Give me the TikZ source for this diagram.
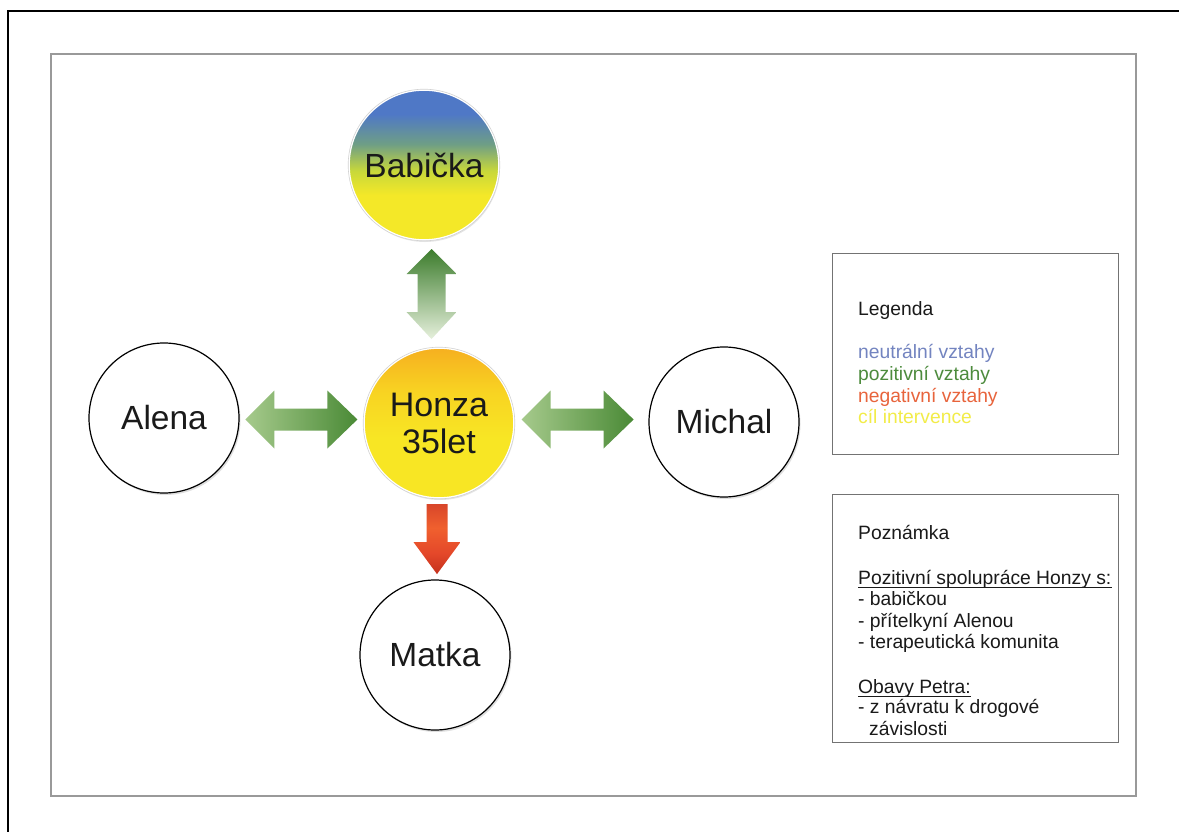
\documentclass[tikz,border=0pt]{standalone}
\usepackage{fontspec}
\setmainfont{Liberation Sans}
\usetikzlibrary{calc,shadows}
\definecolor{bY}{HTML}{F4E828}
\definecolor{bYG}{HTML}{C8D83A}
\definecolor{bG}{HTML}{6E9E86}
\definecolor{bB}{HTML}{4F78C6}
\definecolor{hY}{HTML}{F8E624}
\definecolor{hM}{HTML}{F8D422}
\definecolor{hO}{HTML}{F6B020}
\definecolor{rD}{HTML}{C4301C}
\definecolor{rM}{HTML}{E4482A}
\definecolor{rL}{HTML}{F0602E}
\definecolor{rT}{HTML}{D8462A}
\definecolor{gD}{HTML}{3C7C2C}
\definecolor{gM}{HTML}{8DB976}
\definecolor{gL}{HTML}{E6F0DC}
\definecolor{hL}{HTML}{A6CA8C}
\definecolor{hC}{HTML}{C6DCB4}
\definecolor{hR}{HTML}{4A8A36}
\definecolor{txt}{HTML}{1A1A1A}
\definecolor{cNeu}{HTML}{7384C0}
\definecolor{cPos}{HTML}{4D8B3D}
\definecolor{cNeg}{HTML}{E8643C}
\definecolor{cCil}{HTML}{F2EC48}
\pgfdeclareverticalshading{babshade}{100bp}{color(0bp)=(bY); color(25bp)=(bY); color(40bp)=(bY); color(48bp)=(bYG); color(57bp)=(bG); color(67bp)=(bB); color(75bp)=(bB); color(100bp)=(bB)}
\pgfdeclareverticalshading{honshade}{100bp}{color(0bp)=(hY); color(25bp)=(hY); color(45bp)=(hY); color(60bp)=(hM); color(75bp)=(hO); color(100bp)=(hO)}
\pgfdeclareverticalshading{redshade}{100bp}{color(0bp)=(rD); color(25bp)=(rD); color(40bp)=(rM); color(58bp)=(rL); color(75bp)=(rT); color(100bp)=(rT)}
\tikzset{
  pers/.style={circle, minimum size=150pt, inner sep=0pt, text=txt,
    font=\fontsize{33.5}{37}\selectfont},
  plain/.style={pers, draw=black, line width=1.2pt, fill=white,
    drop shadow={opacity=.25, shadow xshift=1.5pt, shadow yshift=-2pt}},
  glossy/.style={pers, draw=white, line width=1.6pt,
    drop shadow={opacity=.2, shadow xshift=1pt, shadow yshift=-2pt}},
  boxframe/.style={draw=gray!90!black, line width=1.2pt, anchor=north west, inner sep=0pt},
  boxtext/.style={anchor=base west, inner sep=0pt, text=txt,
    font=\fontsize{19.3}{21.3}\selectfont},
  vdarrow/.pic={\shade[top color=gD, middle color=gM, bottom color=gL]
    (0,-45) -- (25,-20) -- (14,-20) -- (14,18) -- (25,18) -- (0,45)
    -- (-25,18) -- (-14,18) -- (-14,-20) -- (-25,-20) -- cycle;},
  hdarrow/.pic={\shade[left color=hL, middle color=hC, right color=hR]
    (-56,0) -- (-27,-29) -- (-27,-11) -- (26,-11) -- (26,-29) -- (56,0)
    -- (26,29) -- (26,11) -- (-27,11) -- (-27,29) -- cycle;},
  downarrow/.pic={\shade[shading=redshade]
    (-10.5,-35) -- (10.5,-35) -- (10.5,3) -- (23.5,3) -- (0,35)
    -- (-23.5,3) -- (-10.5,3) -- cycle;}
}
\begin{document}
\begin{tikzpicture}[x=1pt,y=-1pt]
\useasboundingbox (0,0) rectangle (1179,832);
\fill[white] (0,0) rectangle (1179,832);
% frames
\draw[black, line width=1.1pt] (8,832) -- (8,11) -- (1179,11);
\draw[gray!80, line width=1.5pt] (51,54) rectangle (1136,796);
% persons
\node[glossy, shading=babshade] (bab) at (424,165) {Babička};
\node[glossy, shading=honshade, align=center,
      font=\fontsize{34}{37}\selectfont] (hon) at (439,423) {Honza\\35let};
\node[plain] (ale) at (164,418) {Alena};
\node[plain] (mic) at (724,422) {Michal};
\node[plain] (mat) at (435,655) {Matka};
\draw[gray!35, line width=.6pt] (bab.center) circle[radius=75.8];
\draw[gray!35, line width=.6pt] (hon.center) circle[radius=75.8];
% connectors
\path ($(bab.south)!0.5!(hon.north)$) pic {vdarrow};
\path ($(ale.east)!0.5!(hon.west)$) ++(0,-1) pic {hdarrow};
\path ($(hon.east)!0.5!(mic.west)$) ++(-4,-3) pic {hdarrow};
\path ($(hon.south)!0.5!(mat.north)$) pic {downarrow};
% legend
\node[boxframe, minimum width=286pt, minimum height=201pt] (legbox) at (832,253) {};
\node[boxtext] (l0) at (858,315) {Legenda};
\node[boxtext, text=cNeu] (l1) at (858,358) {neutrální vztahy};
\node[boxtext, text=cPos] (l2) at (858,380) {pozitivní vztahy};
\node[boxtext, text=cNeg] (l3) at (858,402) {negativní vztahy};
\node[boxtext, text=cCil] (l4) at (858,423) {cíl intervence};
% note
\node[boxframe, minimum width=286pt, minimum height=248pt] (notebox) at (832,494) {};
\node[boxtext] (n0) at (858,539) {Poznámka};
\node[boxtext] (n1) at (858,584) {Pozitivní spolupráce Honzy s:};
\node[boxtext] (n2) at (858,605) {- babičkou};
\node[boxtext] (n3) at (858,627) {- přítelkyní Alenou};
\node[boxtext] (n4) at (858,648) {- terapeutická komunita};
\node[boxtext] (n5) at (858,693) {Obavy Petra:};
\node[boxtext] (n6) at (858,713) {- z návratu k drogové};
\node[boxtext] (n7) at (869,735) {závislosti};
\draw[txt, line width=.9pt] ($(n1.base west)+(0,3)$) -- ($(n1.base east)+(0,3)$);
\draw[txt, line width=.9pt] ($(n5.base west)+(0,3)$) -- ($(n5.base east)+(0,3)$);
\end{tikzpicture}
\end{document}
